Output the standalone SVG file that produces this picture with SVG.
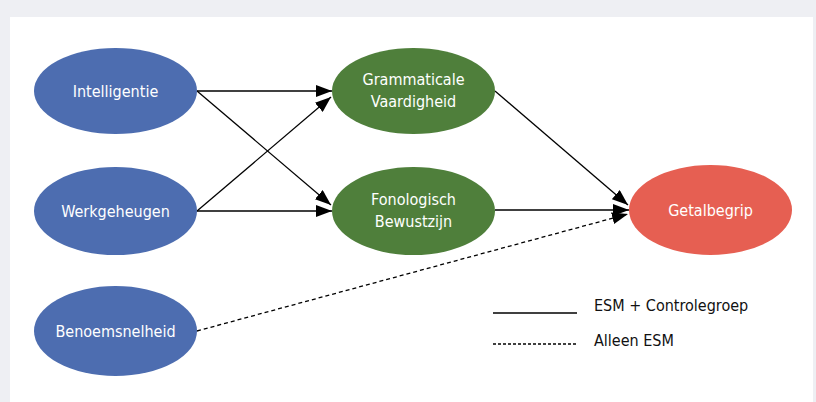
<svg xmlns="http://www.w3.org/2000/svg" width="816" height="402" viewBox="0 0 816 402">
<defs>
<style>
.lbl{font-family:"Liberation Sans Narrow","DejaVu Sans Condensed","Liberation Sans",sans-serif;font-size:16px;fill:#ffffff;text-anchor:middle;font-stretch:condensed}
.leg{font-family:"Liberation Sans Narrow","DejaVu Sans Condensed","Liberation Sans",sans-serif;font-size:16px;fill:#111111;font-stretch:condensed}
.blue{fill:#4d6db0}
.green{fill:#4f7f3b}
.red{fill:#e65f52}
.ln{stroke:#000;stroke-width:1.3;fill:none}
.dash{stroke-dasharray:4,3}
</style>
<marker id="ah" viewBox="0 0 16 12" refX="16" refY="6" markerWidth="16" markerHeight="12" markerUnits="userSpaceOnUse" orient="auto">
<path d="M0,0 L16,6 L0,12 Z" fill="#000"/>
</marker>
</defs>
<rect x="0" y="0" width="816" height="402" fill="#eeeff3"/>
<rect x="10" y="17" width="803" height="385" fill="#ffffff"/>
<g id="connectors">
<line class="ln" x1="197" y1="91" x2="332" y2="91" marker-end="url(#ah)"/>
<line class="ln" x1="197" y1="91" x2="331" y2="205" marker-end="url(#ah)"/>
<line class="ln" x1="197" y1="211" x2="331" y2="97" marker-end="url(#ah)"/>
<line class="ln" x1="197" y1="211" x2="332" y2="211" marker-end="url(#ah)"/>
<line class="ln" x1="495" y1="91" x2="628" y2="205" marker-end="url(#ah)"/>
<line class="ln" x1="495" y1="210" x2="629" y2="210" marker-end="url(#ah)"/>
<line class="ln dash" x1="197" y1="331" x2="628" y2="214" marker-end="url(#ah)"/>
</g>
<g id="intelligentie">
<ellipse class="blue" cx="115.5" cy="91" rx="81.5" ry="43"/>
<text class="lbl" x="115.5" y="97">Intelligentie</text>
</g>
<g id="werkgeheugen">
<ellipse class="blue" cx="115.5" cy="211" rx="81.5" ry="44"/>
<text class="lbl" x="115.5" y="217">Werkgeheugen</text>
</g>
<g id="benoemsnelheid">
<ellipse class="blue" cx="115.5" cy="331" rx="81.5" ry="45"/>
<text class="lbl" x="115.5" y="337">Benoemsnelheid</text>
</g>
<g id="grammaticale">
<ellipse class="green" cx="413.5" cy="91" rx="81.5" ry="43"/>
<text class="lbl" x="413.5" y="85">Grammaticale</text>
<text class="lbl" x="413.5" y="107">Vaardigheid</text>
</g>
<g id="fonologisch">
<ellipse class="green" cx="413.5" cy="211" rx="81.5" ry="44"/>
<text class="lbl" x="413.5" y="205">Fonologisch</text>
<text class="lbl" x="413.5" y="227">Bewustzijn</text>
</g>
<g id="getalbegrip">
<ellipse class="red" cx="710.5" cy="210" rx="81.5" ry="45"/>
<text class="lbl" x="710.5" y="216">Getalbegrip</text>
</g>
<g id="legend">
<line class="ln" x1="493" y1="313" x2="577" y2="313"/>
<line class="ln dash" x1="493" y1="344" x2="577" y2="344" stroke-width="1" style="stroke-dasharray:3,2"/>
<text class="leg" x="594" y="311">ESM + Controlegroep</text>
<text class="leg" x="594" y="346">Alleen ESM</text>
</g>
</svg>
